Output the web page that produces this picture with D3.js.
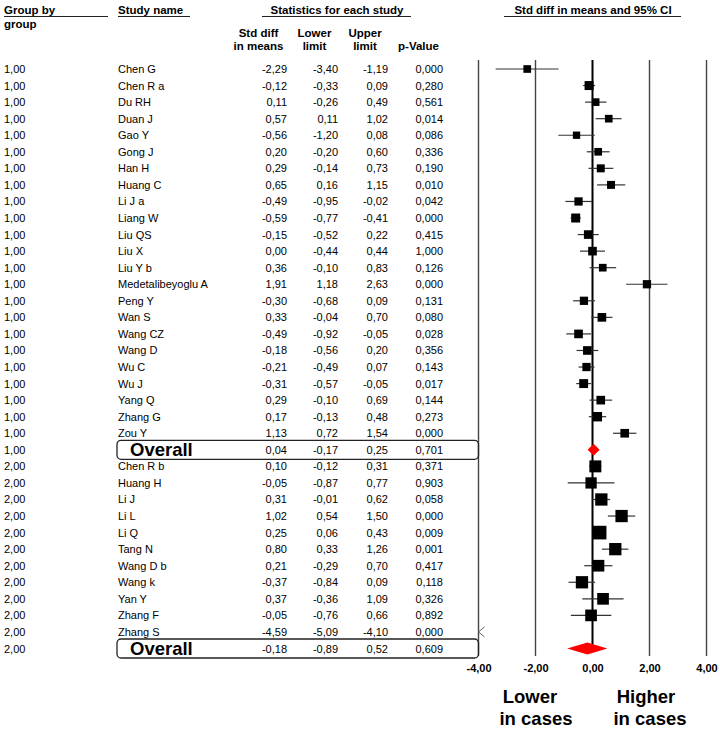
<!DOCTYPE html>
<html>
<head>
<meta charset="utf-8">
<script src="https://cdn.jsdelivr.net/npm/d3@7"></script>
<style>
  body { margin: 0; background: #fff; }
  svg text { font-family: "Liberation Sans", Arial, sans-serif; fill: #000; }
</style>
</head>
<body>
<svg id="chart" width="720" height="729"></svg>
<script>
// study level data
var groups = ['1,00','1,00','1,00','1,00','1,00','1,00','1,00','1,00','1,00','1,00','1,00','1,00',
    '1,00','1,00','1,00','1,00','1,00','1,00','1,00','1,00','1,00','1,00','1,00',
    '2,00','2,00','2,00','2,00','2,00','2,00','2,00','2,00','2,00','2,00','2,00'];
var studies = ['Chen G','Chen R a','Du RH','Duan J','Gao Y','Gong J','Han H','Huang C','Li J a','Liang W',
    'Liu QS','Liu X','Liu Y b','Medetalibeyoglu A','Peng Y','Wan S','Wang CZ','Wang D','Wu C','Wu J',
    'Yang Q','Zhang G','Zou Y',
    'Chen R b','Huang H','Li J','Li L','Li Q','Tang N','Wang D b','Wang k','Yan Y','Zhang F','Zhang S'];
var stdDiff = [-2.29,-0.12,0.11,0.57,-0.56,0.20,0.29,0.65,-0.49,-0.59,-0.15,0.00,0.36,1.91,-0.30,0.33,
    -0.49,-0.18,-0.21,-0.31,0.29,0.17,1.13,
    0.10,-0.05,0.31,1.02,0.25,0.80,0.21,-0.37,0.37,-0.05,-4.59];
var lowerLimit = [-3.40,-0.33,-0.26,0.11,-1.20,-0.20,-0.14,0.16,-0.95,-0.77,-0.52,-0.44,-0.10,1.18,-0.68,-0.04,
    -0.92,-0.56,-0.49,-0.57,-0.10,-0.13,0.72,
    -0.12,-0.87,-0.01,0.54,0.06,0.33,-0.29,-0.84,-0.36,-0.76,-5.09];
var upperLimit = [-1.19,0.09,0.49,1.02,0.08,0.60,0.73,1.15,-0.02,-0.41,0.22,0.44,0.83,2.63,0.09,0.70,
    -0.05,0.20,0.07,-0.05,0.69,0.48,1.54,
    0.31,0.77,0.62,1.50,0.43,1.26,0.70,0.09,1.09,0.66,-4.10];
var pValue = [0.000,0.280,0.561,0.014,0.086,0.336,0.190,0.010,0.042,0.000,0.415,1.000,0.126,0.000,0.131,0.080,
    0.028,0.356,0.143,0.017,0.144,0.273,0.000,
    0.371,0.903,0.058,0.000,0.009,0.001,0.417,0.118,0.326,0.892,0.000];
// relative weight (%) within each group
var weights = [3.7,5.1,3.7,3.7,3.4,3.7,4.0,4.0,4.3,5.1,4.7,4.7,3.7,4.3,4.3,4.7,4.7,4.7,4.3,5.0,4.7,5.6,4.7,
    9.0,8.0,9.5,9.5,11.7,9.5,8.6,9.5,8.6,8.6,8.0];

// pooled (overall) estimates per group
var overallGroups = ['1,00','2,00'];
var overallEst = [0.04,-0.18];
var overallLower = [-0.17,-0.89];
var overallUpper = [0.25,0.52];
var overallP = [0.701,0.609];

var axisTicks = [-4,-2,0,2,4];

(function(){
    var svg = d3.select('#chart');
    var locale = d3.formatLocale({decimal: ',', thousands: '.', grouping: [3], currency: ['', ''], minus: '-'});
    var f2 = locale.format('.2f');
    var f3 = locale.format('.3f');

    // build the list of rows: studies of group 1, overall 1, studies of group 2, overall 2
    var rows = [];
    overallGroups.forEach(function(g, gi) {
        for (var i = 0; i < studies.length; i++) {
            if (groups[i] !== g) continue;
            rows.push({group: g, name: studies[i], est: stdDiff[i], lo: lowerLimit[i], hi: upperLimit[i],
                p: pValue[i], w: weights[i], overall: false});
        }
        rows.push({group: g, name: 'Overall', est: overallEst[gi], lo: overallLower[gi], hi: overallUpper[gi],
            p: overallP[gi], overall: true});
    });

    var x = d3.scaleLinear().domain([-4, 4]).range([478.5, 706.5]);
    var y = d3.scalePoint().domain(d3.range(rows.length)).range([69, 648.5]);
    var side = d3.scaleSqrt().domain([0, 10]).range([0, 12.6]);

    var bold = function(sel, size) {
        return sel.style('font-weight', 'bold').style('font-size', size + 'px');
    };

    // ---------- headers ----------
    var hdr = svg.append('g');
    bold(hdr.append('text').attr('x', 4).attr('y', 14).text('Group by'), 11.5);
    bold(hdr.append('text').attr('x', 4).attr('y', 28).text('group'), 11.5);
    bold(hdr.append('text').attr('x', 118).attr('y', 14).text('Study name'), 11.5);
    bold(hdr.append('text').attr('x', 337).attr('y', 14).attr('text-anchor', 'middle')
        .text('Statistics for each study'), 11.5);
    bold(hdr.append('text').attr('x', 593).attr('y', 14).attr('text-anchor', 'middle')
        .text('Std diff in means and 95% CI'), 11.5);
    [[4, 108], [118, 190], [262, 411], [504, 681]].forEach(function(u) {
        hdr.append('line').attr('x1', u[0]).attr('x2', u[1]).attr('y1', 16.5).attr('y2', 16.5)
            .attr('stroke', '#222').attr('stroke-width', 1);
    });
    var sub = [[258.5, 'Std diff', 'in means'], [314.5, 'Lower', 'limit'], [365, 'Upper', 'limit'], [418.5, '', 'p-Value']];
    sub.forEach(function(s) {
        bold(hdr.append('text').attr('x', s[0]).attr('y', 37).attr('text-anchor', 'middle').text(s[1]), 11.5);
        bold(hdr.append('text').attr('x', s[0]).attr('y', 50).attr('text-anchor', 'middle').text(s[2]), 11.5);
    });

    // ---------- vertical reference lines ----------
    var grid = svg.append('g');
    grid.selectAll('line')
        .data(axisTicks)
        .enter().append('line')
        .attr('x1', function(d) { return x(d); })
        .attr('x2', function(d) { return x(d); })
        .attr('y1', 60)
        .attr('y2', function(d) { return d === 0 ? 650 : 656; })
        .attr('stroke', function(d) { return d === 0 ? '#000' : '#444'; })
        .attr('stroke-width', function(d) { return d === 0 ? 2 : 1.4; });

    // ---------- overall boxes ----------
    var boxRows = rows.map(function(r, i) { return i; }).filter(function(i) { return rows[i].overall; });
    svg.append('g').selectAll('rect')
        .data(boxRows)
        .enter().append('rect')
        .attr('x', 117)
        .attr('y', function(i) { return y(i) - 9.5; })
        .attr('width', x.range()[0] - 117)
        .attr('height', 19)
        .attr('rx', 4)
        .attr('fill', 'none')
        .attr('stroke', '#222')
        .attr('stroke-width', 1.3);

    // ---------- table text ----------
    var tbl = svg.append('g').style('font-size', '11px');
    rows.forEach(function(r, i) {
        var yy = y(i) + 4;
        tbl.append('text').attr('x', 4).attr('y', yy).text(r.group);
        if (r.overall) {
            bold(tbl.append('text').attr('x', 130).attr('y', y(i) + 6.5).text(r.name), 18.5);
        } else {
            tbl.append('text').attr('x', 118).attr('y', yy).text(r.name);
        }
        tbl.append('text').attr('x', 287).attr('y', yy).attr('text-anchor', 'end').text(f2(r.est));
        tbl.append('text').attr('x', 338).attr('y', yy).attr('text-anchor', 'end').text(f2(r.lo));
        tbl.append('text').attr('x', 388).attr('y', yy).attr('text-anchor', 'end').text(f2(r.hi));
        tbl.append('text').attr('x', 443).attr('y', yy).attr('text-anchor', 'end').text(f3(r.p));
    });

    // ---------- forest plot marks ----------
    var plot = svg.append('g');
    var inRange = function(v) { return v >= x.domain()[0] && v <= x.domain()[1]; };
    rows.forEach(function(r, i) {
        var yy = y(i);
        if (r.overall) {
            plot.append('path')
                .attr('d', 'M' + x(r.lo) + ',' + yy + 'L' + x(r.est) + ',' + (yy - 6) +
                    'L' + x(r.hi) + ',' + yy + 'L' + x(r.est) + ',' + (yy + 6) + 'Z')
                .attr('fill', '#ff0000');
            return;
        }
        if (!inRange(r.hi)) {
            // whole interval off the left edge: draw the arrow marker
            var ax = x(x.domain()[0]);
            plot.append('path')
                .attr('d', 'M' + (ax + 6) + ',' + (yy - 5) + 'L' + ax + ',' + yy + 'L' + (ax + 6) + ',' + (yy + 5))
                .attr('fill', 'none').attr('stroke', '#666').attr('stroke-width', 1);
            return;
        }
        plot.append('line')
            .attr('x1', x(Math.max(r.lo, -4))).attr('x2', x(Math.min(r.hi, 4)))
            .attr('y1', yy).attr('y2', yy)
            .attr('stroke', '#333').attr('stroke-width', 1.2);
        var s = side(r.w);
        plot.append('rect')
            .attr('x', x(r.est) - s / 2).attr('y', yy - s / 2)
            .attr('width', s).attr('height', s)
            .attr('fill', '#000');
    });

    // ---------- axis ----------
    var axis = svg.append('g')
        .attr('transform', 'translate(0,672)')
        .call(d3.axisBottom(x).tickValues(axisTicks).tickSize(0).tickFormat(function(d) { return f2(d); }));
    axis.select('.domain').remove();
    axis.selectAll('text')
        .attr('dy', 0).attr('y', 0)
        .style('font-family', '"Liberation Sans", Arial, sans-serif')
        .style('font-size', '11px').style('font-weight', 'bold').attr('fill', '#000');

    // ---------- direction labels ----------
    var lab = svg.append('g').attr('text-anchor', 'middle');
    bold(lab.append('text').attr('x', 530).attr('y', 703).text('Lower'), 18.5);
    bold(lab.append('text').attr('x', 536).attr('y', 725).text('in cases'), 18.5);
    bold(lab.append('text').attr('x', 646).attr('y', 703).text('Higher'), 18.5);
    bold(lab.append('text').attr('x', 650).attr('y', 725).text('in cases'), 18.5);
})();
</script>
</body>
</html>
